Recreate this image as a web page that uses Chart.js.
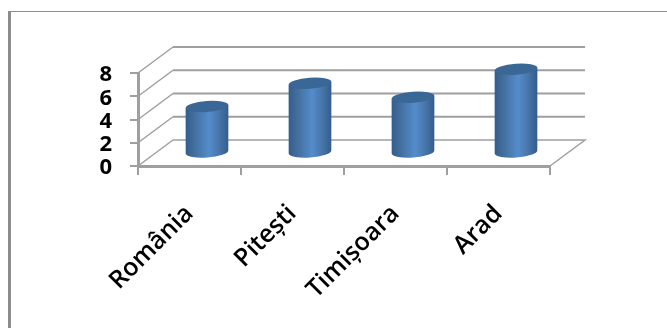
<!DOCTYPE html>
<html>
<head>
<meta charset="utf-8">
<script src="https://cdn.jsdelivr.net/npm/chart.js@4"></script>
<style>
  html, body { margin: 0; padding: 0; background: #fff; }
  #wrap { position: relative; width: 667px; height: 328px; overflow: hidden; }
  #frameTop { position: absolute; left: 8px; top: 11px; width: 659px; height: 1px; background: #8c8c8c; }
  #frameLeft { position: absolute; left: 8px; top: 11px; width: 3px; height: 317px; background: #8c8c8c; }
  canvas { position: absolute; left: 0; top: 0; }
</style>
</head>
<body>
<div id="wrap">
  <div id="frameTop"></div>
  <div id="frameLeft"></div>
  <canvas id="grafic" width="667" height="328"></canvas>
</div>
<script>
const categorii = ['România', 'Pitești', 'Timișoara', 'Arad'];
const valori = [4, 6, 4.8, 7.2];
const tickuriY = [0, 2, 4, 6, 8];

// adancimea "3D": peretele din spate e deplasat fata de axa din fata
const depthX = 35, depthY = -26;
const gridColor = '#9f9f9f';

function bodyGradient(ctx, x0, x1) {
  const g = ctx.createLinearGradient(x0, 0, x1, 0);
  g.addColorStop(0, '#335d8c');
  g.addColorStop(0.22, '#44709f');
  g.addColorStop(0.55, '#548ccb');
  g.addColorStop(0.8, '#4674a8');
  g.addColorStop(1, '#335d8c');
  return g;
}

// perete, podea si grila din spate, desenate din scalele graficului
const wall3d = {
  id: 'wall3d',
  // cifrele din original stau putin sub linia tick-ului
  afterUpdate(chart) {
    chart.scales.y.getLabelItems().forEach(item => {
      item.options.translation[1] += 2;
    });
  },
  beforeDatasetsDraw(chart) {
    const { ctx, scales: { x, y } } = chart;
    ctx.save();
    ctx.strokeStyle = gridColor;
    tickuriY.forEach(v => {
      const py = y.getPixelForValue(v);
      ctx.lineWidth = 1.5;
      ctx.beginPath();
      ctx.moveTo(x.left, py);
      ctx.lineTo(x.left + depthX, py + depthY);
      ctx.stroke();
      ctx.lineWidth = 2;
      ctx.beginPath();
      ctx.moveTo(x.left + depthX, py + depthY);
      ctx.lineTo(x.right + depthX, py + depthY);
      if (v === 0) {
        ctx.lineWidth = 1.5;
        ctx.lineTo(x.right, py);
      }
      ctx.stroke();
    });
    ctx.restore();
  },
  // barele sunt desenate ca cilindri, din geometria elementelor
  beforeDatasetDraw(chart, args) {
    const ctx = chart.ctx;
    args.meta.data.forEach(bar => {
      const { x, y, base, width } = bar.getProps(['x', 'y', 'base', 'width'], true);
      const cx = x + depthX / 2, top = y + depthY / 2, bottom = base + depthY / 2;
      const rx = width / 2, ry = 5.5, tilt = -0.07;
      const dy = rx * Math.sin(tilt);
      ctx.save();
      ctx.fillStyle = bodyGradient(ctx, cx - rx, cx + rx);
      ctx.beginPath();
      ctx.ellipse(cx, bottom, rx, ry, tilt, 0, Math.PI);
      ctx.lineTo(cx - rx, top - dy);
      ctx.lineTo(cx + rx, top + dy);
      ctx.closePath();
      ctx.fill();
      ctx.fillStyle = '#3b6796';
      ctx.beginPath();
      ctx.ellipse(cx, top, rx, ry, tilt, 0, Math.PI * 2);
      ctx.fill();
      ctx.restore();
    });
    return false;
  }
};

new Chart(document.getElementById('grafic'), {
  type: 'bar',
  data: {
    labels: categorii,
    datasets: [{ data: valori, backgroundColor: '#4f81bd', barPercentage: 0.415, categoryPercentage: 1 }]
  },
  options: {
    responsive: false,
    animation: false,
    layout: { padding: { left: 60, right: 117, top: 73, bottom: 0 } },
    plugins: { legend: { display: false }, title: { display: false }, tooltip: { enabled: false } },
    scales: {
      x: {
        afterFit: s => { s.height = 162; },
        grid: { drawOnChartArea: false, color: gridColor, tickLength: 9, lineWidth: 2 },
        border: { color: gridColor, width: 3 },
        ticks: {
          autoSkip: false, minRotation: 45, maxRotation: 45, color: '#000', padding: 24,
          font: { family: '"Open Sans"', size: 25, weight: '600' }
        }
      },
      y: {
        min: 0, max: 8,
        afterFit: s => { s.width = 78; },
        afterBuildTicks: s => { s.ticks = tickuriY.map(v => ({ value: v })); },
        grid: { drawOnChartArea: false, color: gridColor, tickLength: 8, lineWidth: 2 },
        border: { color: gridColor, width: 3 },
        ticks: {
          autoSkip: false, color: '#000', padding: 18,
          font: { family: '"Open Sans"', size: 22, weight: '700' }
        }
      }
    }
  },
  plugins: [wall3d]
});
</script>
</body>
</html>
